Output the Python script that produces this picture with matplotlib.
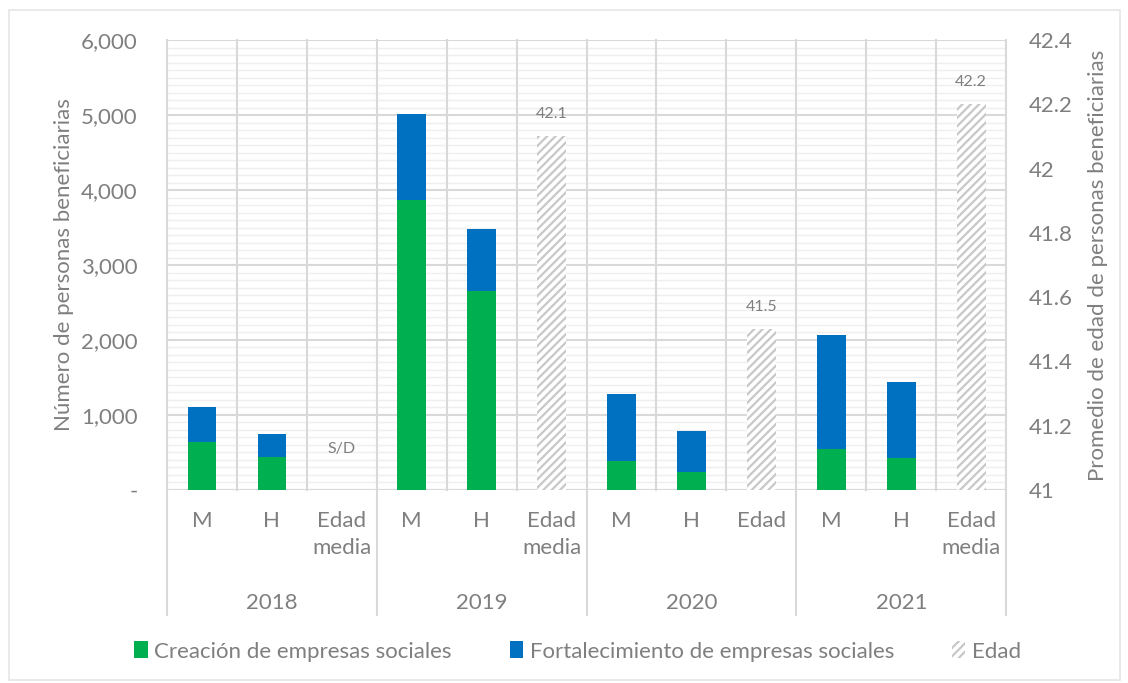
import matplotlib
matplotlib.use("Agg")
import matplotlib.pyplot as plt
import matplotlib.ticker as mticker
from matplotlib.patches import Patch, Rectangle
import numpy as np

plt.rcParams['font.family'] = ['Lato', 'DejaVu Sans']
plt.rcParams['hatch.color'] = '#C8C8C8'
plt.rcParams['hatch.linewidth'] = 1.6

# data
years = ["2018", "2019", "2020", "2021"]
sub_labels = ["M", "H", "Edad\nmedia", "M", "H", "Edad\nmedia",
              "M", "H", "Edad", "M", "H", "Edad\nmedia"]
creacion = [640, 440, 0, 3870, 2660, 0, 390, 240, 0, 550, 420, 0]
fortalecimiento = [470, 310, 0, 1150, 820, 0, 890, 550, 0, 1510, 1020, 0]
edad = [None, None, None, None, None, 42.1, None, None, 41.5, None, None, 42.2]

green = '#00B050'
blue = '#0070C0'
hatch_gray = '#C8C8C8'
text_col = '#7F7F7F'
grid_major = '#D9D9D9'
grid_minor = '#EFEFEF'
fs = 16

fig = plt.figure(figsize=(11.28, 6.83), dpi=100)
ax = fig.add_axes([0.148, 0.2826, 0.744, 0.6588])
ax2 = ax.twinx()
# secondary axis drawn on top of primary gridlines
ax2.set_zorder(ax.get_zorder() + 1)
ax2.patch.set_visible(False)

x = np.arange(len(sub_labels))
w = 0.41
ax.bar(x, creacion, width=w, color=green, zorder=3)
ax.bar(x, fortalecimiento, width=w, bottom=creacion, color=blue, zorder=3)

ymin2 = 41
for xi, v in zip(x, edad):
    if v is None:
        continue
    ax2.bar(xi, v - ymin2, width=w, bottom=ymin2, color='white',
            edgecolor=hatch_gray, hatch='////', linewidth=0, zorder=3)
    ax2.annotate(f"{v:.1f}", (xi, v), xytext=(0, 11), textcoords='offset points',
                 ha='center', va='bottom', fontsize=11.5, color=text_col)
ax.text(2, 550, "S/D", ha='center', va='center', fontsize=11.5, color=text_col, zorder=4)

ax.set_xlim(-0.5, len(sub_labels) - 0.5)
ax.set_ylim(0, 6000)
ax2.set_ylim(41, 42.4)

ax.yaxis.set_major_locator(mticker.MultipleLocator(1000))
ax.yaxis.set_minor_locator(mticker.MultipleLocator(100))
ax.yaxis.set_major_formatter(mticker.FuncFormatter(lambda v, p: "-" if v == 0 else f"{v:,.0f}"))
ax2.yaxis.set_major_locator(mticker.MultipleLocator(0.2))
ax2.yaxis.set_major_formatter(mticker.FuncFormatter(lambda v, p: f"{v:g}"))

ax.grid(axis='y', which='minor', color=grid_minor, lw=1.0, zorder=0)
ax.grid(axis='y', which='major', color=grid_major, lw=1.5, zorder=1)
ax.set_axisbelow(True)

for a in (ax, ax2):
    for s in a.spines.values():
        s.set_visible(False)
    a.tick_params(which='both', length=0, labelsize=fs, labelcolor=text_col)

# category separators
for b in np.arange(-0.5, len(sub_labels), 1.0):
    group_edge = (b + 0.5) % 3 == 0
    y0 = -0.278 if group_edge else 0
    ax.plot([b, b], [y0, 1], transform=ax.get_xaxis_transform(), color=grid_major,
            lw=1.5, clip_on=False, zorder=1)
ax.axhline(0, color=grid_major, lw=1.5, zorder=1)

ax.set_xticks(x)
ax.set_xticklabels(sub_labels, fontsize=fs, color=text_col, linespacing=1.45)
ax.tick_params(axis='x', pad=15)
ax.tick_params(axis='y', pad=21)
ax2.tick_params(axis='y', pad=16)
for i, yr in enumerate(years):
    ax.text(3 * i + 1, -0.252, yr, transform=ax.get_xaxis_transform(),
            ha='center', va='center', fontsize=fs, color=text_col)

ax.set_ylabel("Número de personas beneficiarias", fontsize=fs, color=text_col, labelpad=5)
ax2.set_ylabel("Promedio de edad de personas beneficiarias", fontsize=fs, color=text_col, labelpad=11)

handles = [Patch(facecolor=green, label="Creación de empresas sociales"),
           Patch(facecolor=blue, label="Fortalecimiento de empresas sociales"),
           Patch(facecolor='white', edgecolor=hatch_gray, hatch='////', lw=0, label="Edad")]
fig.legend(handles=handles, loc='center', bbox_to_anchor=(0.512, 0.046), ncol=3,
           frameon=False, fontsize=fs, labelcolor=text_col, handlelength=0.6,
           handleheight=0.8, handletextpad=0.3, columnspacing=2.6)

fig.patches.append(Rectangle((0.008, 0.004), 0.985, 0.981, transform=fig.transFigure,
                             fill=False, edgecolor='#E6E6E6', lw=1.2))

fig.savefig("out.png", dpi=100, facecolor='white')
